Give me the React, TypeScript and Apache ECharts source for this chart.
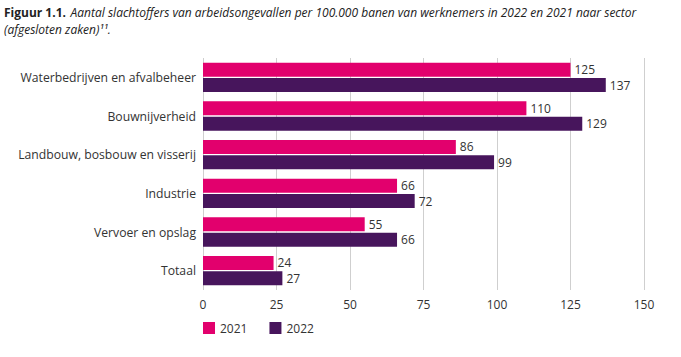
import React, { useEffect, useRef } from "react";
import * as echarts from "echarts";

const categories = [
  "Waterbedrijven en afvalbeheer",
  "Bouwnijverheid",
  "Landbouw, bosbouw en visserij",
  "Industrie",
  "Vervoer en opslag",
  "Totaal",
];
const values2021 = [125, 110, 86, 66, 55, 24];
const values2022 = [137, 129, 99, 72, 66, 27];
const xTicks = [0, 25, 50, 75, 100, 125, 150];

const FONT = "'Open Sans', 'Noto Sans', sans-serif";

export default function App() {
  const ref = useRef<HTMLDivElement>(null);
  useEffect(() => {
    const chart = echarts.init(ref.current!, null, { renderer: "svg" });
    chart.setOption({
      animation: false,
      textStyle: { fontFamily: FONT },
      title: {
        left: 4,
        top: 3,
        padding: 0,
        text:
          "{b|Figuur 1.1.} {i|Aantal slachtoffers van arbeidsongevallen per 100.000 banen van werknemers in 2022 en 2021 naar sector}\n{i|(afgesloten zaken)¹¹.}",
        textStyle: {
          fontWeight: "normal",
          rich: {
            b: { fontWeight: "bold", fontSize: 12, color: "#222", fontFamily: FONT, lineHeight: 16 },
            i: { fontStyle: "italic", fontWeight: "normal", fontSize: 12, color: "#222", fontFamily: FONT, lineHeight: 16 },
          },
        },
      },
      legend: {
        left: 198,
        top: 317,
        itemWidth: 12,
        itemHeight: 12,
        itemGap: 22,
        icon: "rect",
        textStyle: { fontSize: 12, color: "#333", fontFamily: FONT },
        data: ["2021", "2022"],
      },
      grid: { left: 203, right: 37, top: 58, bottom: 67 },
      xAxis: {
        type: "value",
        min: 0,
        max: 150,
        interval: 25,
        axisLine: { show: false },
        axisTick: { show: false },
        splitLine: { show: true, lineStyle: { color: "#cfcfcf", width: 1 } },
        axisLabel: {
          fontSize: 12,
          color: "#333",
          margin: 8,
          formatter: (v: number) => (xTicks.includes(v) ? String(v) : ""),
        },
      },
      yAxis: {
        type: "category",
        data: categories,
        inverse: true,
        axisLine: { show: false },
        axisTick: { show: false },
        axisLabel: { fontSize: 12.2, color: "#333", margin: 7 },
      },
      series: [
        {
          name: "2021",
          type: "bar",
          data: values2021,
          barWidth: 14,
          barGap: "10%",
          itemStyle: { color: "#E2006D" },
          label: { show: true, position: "right", distance: 4, color: "#333", fontSize: 12 },
        },
        {
          name: "2022",
          type: "bar",
          data: values2022,
          barWidth: 14,
          barGap: "10%",
          itemStyle: { color: "#47155C" },
          label: { show: true, position: "right", distance: 4, color: "#333", fontSize: 12 },
        },
      ],
    });
    return () => chart.dispose();
  }, []);
  return (
    <div
      ref={ref}
      style={{ position: "absolute", left: 0, top: 0, width: 681, height: 357 }}
    />
  );
}
